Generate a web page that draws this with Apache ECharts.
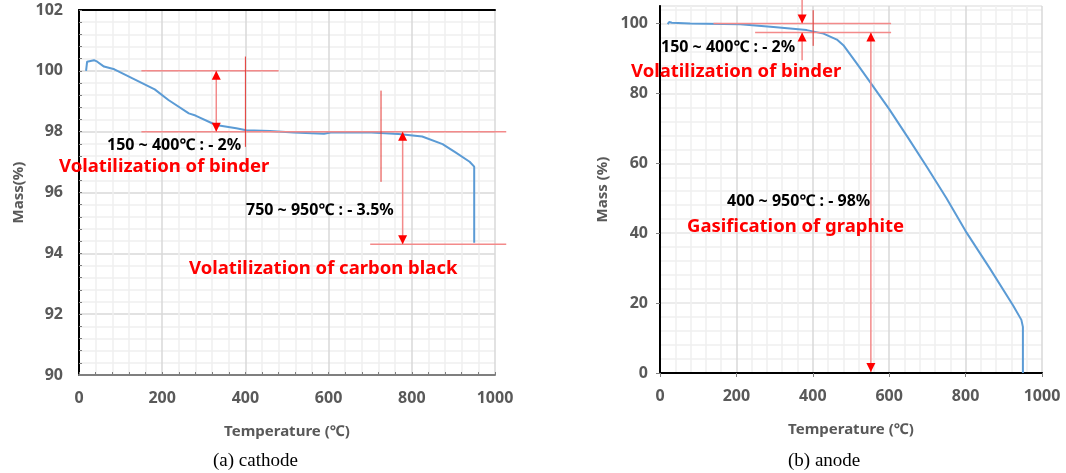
<!DOCTYPE html>
<html>
<head>
<meta charset="utf-8">
<script src="https://cdn.jsdelivr.net/npm/echarts@6/dist/echarts.min.js"></script>
<style>
  html, body { margin: 0; padding: 0; background: #fff; }
  #chart { width: 1066px; height: 473px; }
</style>
</head>
<body>
<div id="chart"></div>
<script>
// (a) cathode TGA curve
const cathodeTemp = [17, 19.5, 36, 44, 60, 85, 125, 182, 215, 264, 280, 329, 378, 402, 459, 516, 589, 605, 703, 768, 825, 874, 906, 939, 950, 950];
const cathodeMass = [100.0, 100.3, 100.35, 100.3, 100.14, 100.05, 99.78, 99.39, 99.04, 98.6, 98.53, 98.22, 98.11, 98.05, 98.02, 97.97, 97.93, 97.97, 97.97, 97.92, 97.84, 97.59, 97.31, 97.01, 96.85, 94.35];

// (b) anode TGA curve
const anodeTemp = [20, 24, 31, 79, 210, 297, 384, 428, 463, 480, 515, 550, 600, 650, 700, 750, 800, 863, 924, 946, 950, 950];
const anodeMass = [99.8, 100.4, 100.2, 100.0, 99.8, 99.0, 98.1, 97.1, 95.4, 93.8, 88.6, 83.2, 75.5, 67.2, 58.7, 50.0, 40.6, 30.0, 19.4, 15.2, 13.2, 0];

// guide segments: [x1, y1, x2, y2, kind]  kind 0 = light line, 1 = thin red line, 2 = double arrow, 3 = arrow at end
const cathodeGuides = [
  [150, 100, 480, 100, 0],
  [150, 98, 1027, 98, 0],
  [700, 94.3, 1027, 94.3, 0],
  [400, 100.47, 400, 97.5, 1],
  [726, 99.35, 726, 96.35, 1],
  [330, 100, 330, 98, 2],
  [778, 98, 778, 94.3, 2]
];
const anodeGuides = [
  [140, 100, 605, 100, 0],
  [249, 97.4, 605, 97.4, 0],
  [401, 103.8, 401, 93.6, 1],
  [372, 106.8, 372, 100, 3],
  [372, 89.5, 372, 97.4, 3],
  [552, 97.4, 552, 0.3, 2]
];

const xTicks = { min: 0, max: 1000, interval: 200 };
const cathodeY = { min: 90, max: 102, interval: 2 };
const anodeY = { min: 0, max: 105, interval: 20 };

const labelFont = 'Noto Sans';
const grey = '#595959';

function zip(xs, ys) {
  return xs.map((x, i) => [x, ys[i]]);
}

function renderGuide(params, api) {
  const a = api.coord([api.value(0), api.value(1)]);
  const b = api.coord([api.value(2), api.value(3)]);
  const kind = api.value(4);
  const children = [{
    type: 'line',
    shape: { x1: a[0], y1: a[1], x2: b[0], y2: b[1] },
    style: { stroke: kind === 1 ? '#e53935' : '#f38a8a', lineWidth: kind === 1 ? 1 : 1.5 }
  }];
  const head = (tip, from) => {
    const dx = tip[0] - from[0], dy = tip[1] - from[1];
    const len = Math.hypot(dx, dy) || 1;
    const ux = dx / len, uy = dy / len;
    const bx = tip[0] - ux * 9, by = tip[1] - uy * 9;
    return {
      type: 'polygon',
      shape: { points: [tip, [bx - uy * 4.5, by + ux * 4.5], [bx + uy * 4.5, by - ux * 4.5]] },
      style: { fill: '#ff0000' }
    };
  };
  if (kind === 2) children.push(head(a, b), head(b, a));
  if (kind === 3) children.push(head(b, a));
  return { type: 'group', children };
}

function mainX(gridIndex, inside) {
  return {
    type: 'value', gridIndex, ...xTicks,
    name: 'Temperature (℃)', nameLocation: 'middle', nameGap: 49,
    nameTextStyle: { color: grey, fontSize: 15, fontWeight: 'bold', fontFamily: labelFont },
    axisLine: { show: true, lineStyle: { color: '#7f7f7f', width: 2 } },
    axisTick: { show: true, inside, length: inside ? 3 : 4, lineStyle: { color: '#7f7f7f' } },
    minorTick: { show: true, splitNumber: 5, length: inside ? 3 : 0, lineStyle: { color: '#7f7f7f' } },
    axisLabel: { color: grey, fontSize: 16, fontWeight: 'bold', fontFamily: labelFont, margin: 15, formatter: v => String(v) },
    splitLine: { show: true, lineStyle: { color: '#d9d9d9', width: 1.5 } },
    minorSplitLine: { show: true, lineStyle: { color: '#efefef', width: 1.5 } }
  };
}

function borderX(gridIndex) {
  return {
    type: 'value', gridIndex, position: 'top', ...xTicks,
    axisLine: { show: true, lineStyle: { color: '#000', width: 2 } },
    axisTick: { show: false }, axisLabel: { show: false }, splitLine: { show: false }
  };
}

function note(x, y, text, red) {
  return {
    type: 'text', left: x, top: y, z: 10,
    style: {
      text, fill: red ? '#ff0000' : '#000',
      fontSize: red ? 18.5 : 16, fontWeight: 'bold', fontFamily: labelFont
    }
  };
}

const option = {
  animation: false,
  backgroundColor: '#fff',
  grid: [
    { left: 79, right: 571, top: 10, bottom: 98 },
    { left: 660, right: 24, top: 6, bottom: 100 }
  ],
  xAxis: [mainX(0, true), borderX(0), mainX(1, false), borderX(1)],
  yAxis: [
    {
      type: 'value', gridIndex: 0, ...cathodeY,
      name: 'Mass(%)', nameLocation: 'middle', nameGap: 53,
      nameTextStyle: { color: grey, fontSize: 15, fontWeight: 'bold', fontFamily: labelFont },
      axisLine: { show: true, lineStyle: { color: '#7f7f7f', width: 2 } },
      axisTick: { show: true, inside: true, length: 3, lineStyle: { color: '#7f7f7f' } },
      minorTick: { show: true, splitNumber: 5, length: 3, lineStyle: { color: '#7f7f7f' } },
      axisLabel: { color: grey, fontSize: 16, fontWeight: 'bold', fontFamily: labelFont, margin: 16 },
      splitLine: { show: true, lineStyle: { color: '#d9d9d9', width: 1.5 } },
      minorSplitLine: { show: true, lineStyle: { color: '#efefef', width: 1.5 } }
    },
    {
      type: 'value', gridIndex: 0, position: 'right', ...cathodeY,
      axisLine: { show: true, lineStyle: { color: '#000', width: 2 } },
      axisTick: { show: false }, axisLabel: { show: false }, splitLine: { show: false }
    },
    {
      type: 'value', gridIndex: 1, ...anodeY,
      name: 'Mass (%)', nameLocation: 'middle', nameGap: 50,
      nameTextStyle: { color: grey, fontSize: 15, fontWeight: 'bold', fontFamily: labelFont },
      axisLine: { show: true, lineStyle: { color: '#7f7f7f', width: 2 } },
      axisTick: { show: true, length: 4, lineStyle: { color: '#7f7f7f' } },
      axisLabel: { color: grey, fontSize: 16, fontWeight: 'bold', fontFamily: labelFont, margin: 12, showMaxLabel: false },
      splitLine: { show: true, lineStyle: { color: '#d9d9d9', width: 1.5 } }
    },
    {
      type: 'value', gridIndex: 1, position: 'right', min: 0, max: 105, interval: 4,
      axisLine: { show: true, lineStyle: { color: '#000', width: 2 } },
      axisTick: { show: false }, axisLabel: { show: false },
      splitLine: { show: true, lineStyle: { color: '#efefef', width: 1.5 } }
    }
  ],
  series: [
    {
      type: 'line', xAxisIndex: 0, yAxisIndex: 0, data: zip(cathodeTemp, cathodeMass),
      showSymbol: false, symbol: 'none', lineStyle: { color: '#5b9bd5', width: 2 }, z: 3
    },
    {
      type: 'line', xAxisIndex: 2, yAxisIndex: 2, data: zip(anodeTemp, anodeMass),
      showSymbol: false, symbol: 'none', lineStyle: { color: '#5b9bd5', width: 2 }, z: 3
    },
    {
      type: 'custom', xAxisIndex: 0, yAxisIndex: 0, data: cathodeGuides, renderItem: renderGuide,
      clip: false, silent: true, z: 4, encode: { x: 0, y: 1 }
    },
    {
      type: 'custom', xAxisIndex: 2, yAxisIndex: 2, data: anodeGuides, renderItem: renderGuide,
      clip: false, silent: true, z: 4, encode: { x: 0, y: 1 }
    }
  ],
  graphic: [
    note(107, 137, '150 ~ 400℃ : - 2%', false),
    note(59, 157, 'Volatilization of binder', true),
    note(246, 202, '750 ~ 950℃ : - 3.5%', false),
    note(189, 259, 'Volatilization of carbon black', true),
    note(661, 39, '150 ~ 400℃ : - 2%', false),
    note(631, 62, 'Volatilization of binder', true),
    note(727, 193, '400 ~ 950℃ : - 98%', false),
    note(687, 217, 'Gasification of graphite', true),
    { type: 'text', left: 213, top: 452, style: { text: '(a) cathode', fill: '#000', fontSize: 19, fontFamily: 'Liberation Serif' } },
    { type: 'text', left: 788, top: 452, style: { text: '(b) anode', fill: '#000', fontSize: 19, fontFamily: 'Liberation Serif' } }
  ]
};

const myChart = echarts.init(document.getElementById('chart'));
myChart.setOption(option);
</script>
</body>
</html>
